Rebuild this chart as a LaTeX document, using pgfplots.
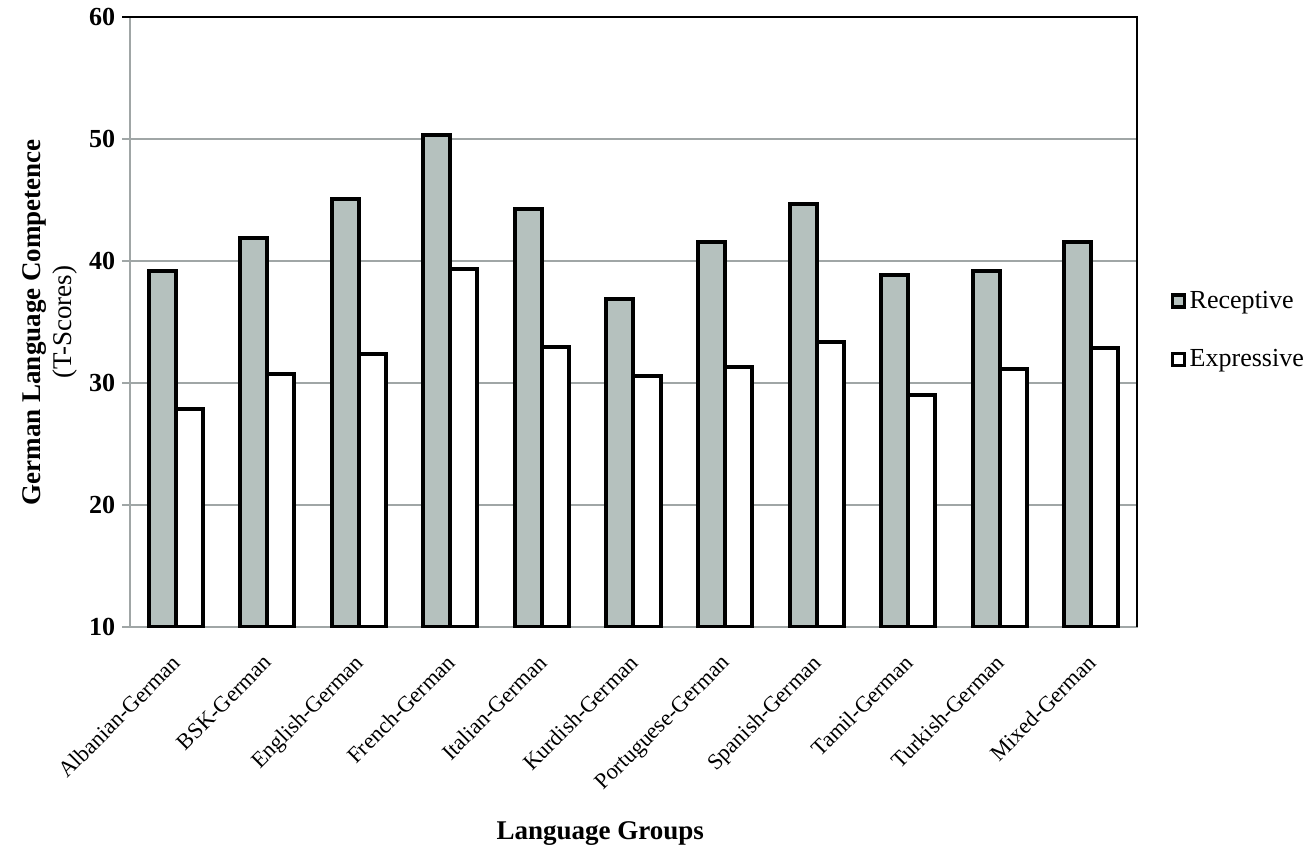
\documentclass[border=0pt]{standalone}
\usepackage{fontspec}
\setmainfont{Liberation Serif}
\usepackage{pgfplots}
\pgfplotsset{compat=1.18}
\definecolor{barfill}{RGB}{181,193,190}
\definecolor{gridgray}{RGB}{160,166,166}
\begin{document}
\begin{tikzpicture}
\begin{axis}[
  name=ax,
  scale only axis, width=503pt, height=305pt,
  ymin=10, ymax=60, ytick={10,20,...,60},
  xmin=-0.5, xmax=10.5,
  xtick={0,...,10},
  xticklabels={Albanian-German,BSK-German,English-German,French-German,Italian-German,Kurdish-German,Portuguese-German,Spanish-German,Tamil-German,Turkish-German,Mixed-German},
  ybar=0pt, bar width=13.5pt,
  ymajorgrids, grid style={gridgray, line width=1pt},
  axis line style={gridgray, line width=1pt},
  ytick style={gridgray, line width=1pt},
  xtick style={draw=none},
  major tick length=4pt,
  ytick pos=left, tick align=outside,
  /pgf/number format/assume math mode=true,
  yticklabel style={font=\fontsize{13}{13}\selectfont\bfseries},
  xticklabel style={xshift=-2.5pt, yshift=-4pt, rotate=45, anchor=north east, font=\fontsize{11.2}{12}\selectfont},
  ylabel={{\bfseries German Language Competence}\\(T-Scores)},
  ylabel style={align=center, font=\fontsize{13.5}{15.5}\selectfont, at={(axis description cs:-0.080,0.5)}, anchor=center, rotate=0},
  xlabel={Language Groups},
  xlabel style={font=\fontsize{13.5}{14}\selectfont\bfseries, at={(axis description cs:0.467,-0.337)}, anchor=center},
  legend style={at={(1.033,0.487)}, anchor=west, draw=none, fill=none, font=\fontsize{13}{13}\selectfont, row sep=15pt, inner sep=0pt, /tikz/every even column/.append style={column sep=1.5pt}},
  legend cell align=left,
  legend image code/.code={\draw[#1, line width=1.6pt] (0.8pt,-3pt) rectangle (6.8pt,3pt);},
]
\addplot[draw=black, line width=2pt, fill=barfill] coordinates {
  (0,39.2) (1,41.9) (2,45.1) (3,50.35) (4,44.3) (5,36.9) (6,41.6) (7,44.7) (8,38.9) (9,39.2) (10,41.6)};
\addplot[draw=black, line width=2pt, fill=white] coordinates {
  (0,27.9) (1,30.8) (2,32.4) (3,39.4) (4,33.0) (5,30.6) (6,31.3) (7,33.4) (8,29.0) (9,31.15) (10,32.9)};
\legend{Receptive,Expressive}
\end{axis}
\draw[black, line width=1pt] ([xshift=-4pt]ax.north west) -- (ax.north east) -- (ax.south east);
\pgfresetboundingbox
\path[use as bounding box] ([xshift=-65pt,yshift=-117.5pt]ax.south west) rectangle ([xshift=86.5pt,yshift=8.5pt]ax.north east);
\end{tikzpicture}
\end{document}
